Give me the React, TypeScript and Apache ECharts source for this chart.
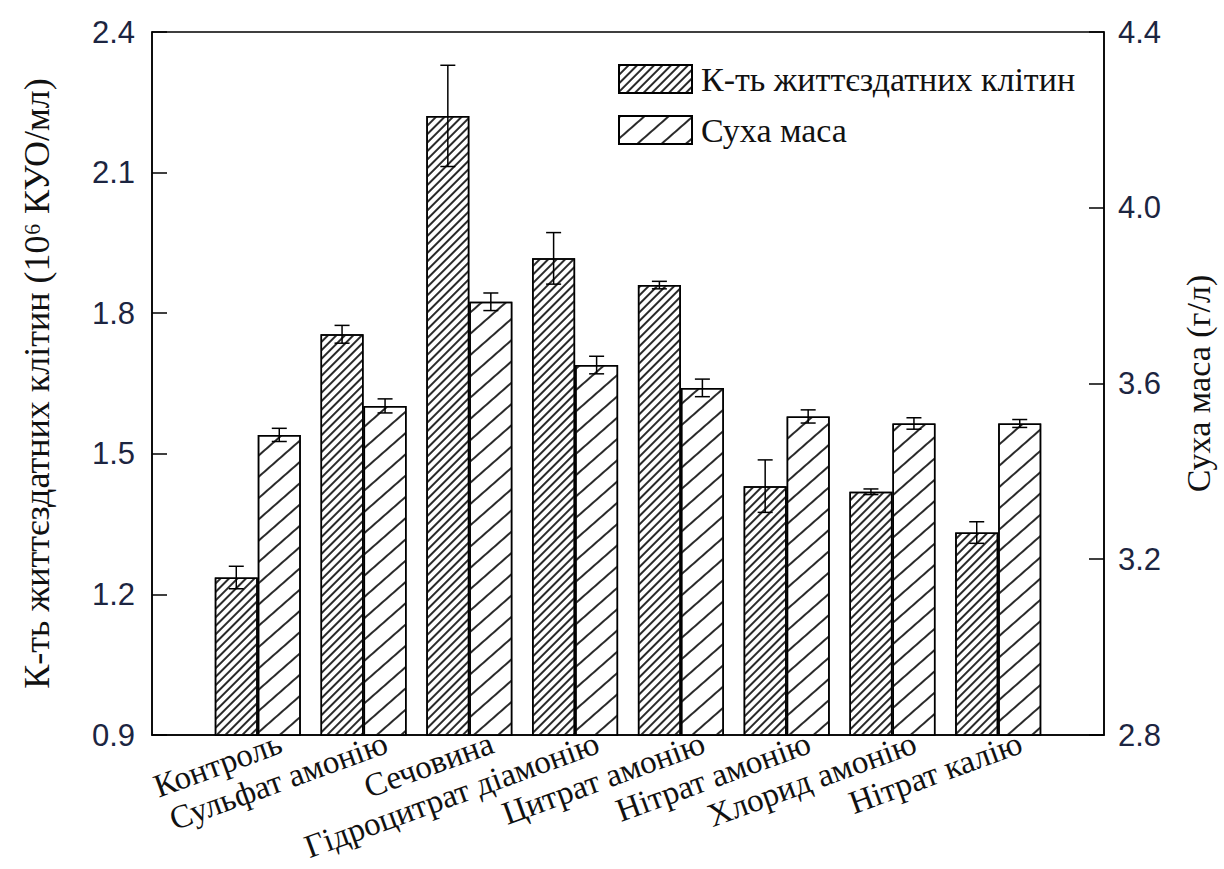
import React, { useEffect, useRef } from 'react';
import * as echarts from 'echarts';

// ---- data ----
const categories = [
  'Контроль',
  'Сульфат амонію',
  'Сечовина',
  'Гідроцитрат діамонію',
  'Цитрат амонію',
  'Нітрат амонію',
  'Хлорид амонію',
  'Нітрат калію',
];
const viableCells = [1.236, 1.755, 2.221, 1.917, 1.86, 1.431, 1.419, 1.332];
const viableCellsErr = [0.024, 0.019, 0.108, 0.055, 0.008, 0.056, 0.006, 0.023];
const dryMass = [3.483, 3.549, 3.786, 3.642, 3.59, 3.525, 3.509, 3.509];
const dryMassErr = [0.015, 0.016, 0.02, 0.02, 0.02, 0.015, 0.013, 0.009];

const seriesNames = ['К-ть життєздатних клітин', 'Суха маса'];
const leftAxisName = 'К-ть життєздатних клітин (10⁶ КУО/мл)';
const rightAxisName = 'Суха маса (г/л)';
const leftRange = { min: 0.9, max: 2.4, interval: 0.3 };
const rightRange = { min: 2.8, max: 4.4, interval: 0.4 };

// ---- style ----
const SERIF = 'Liberation Serif, Times New Roman, serif';
const SANS = 'Liberation Sans, Arial, sans-serif';
const TICK_COLOR = '#1c2541';
const BAR_W = 43;
const CAP_HALF = 7.5;

const denseDecal = {
  symbol: 'rect',
  symbolSize: 1,
  dashArrayX: [1, 0],
  dashArrayY: [1.1, 3.4],
  rotation: -Math.PI / 4,
  color: '#2a2a2a',
};
const sparseDecal = {
  symbol: 'rect',
  symbolSize: 1,
  dashArrayX: [1, 0],
  dashArrayY: [1.3, 13.3],
  rotation: -0.72,
  color: '#2a2a2a',
};

function errorSeries(values: number[], errs: number[], yAxisIndex: number, offset: number) {
  return {
    type: 'custom',
    yAxisIndex,
    z: 5,
    clip: false,
    silent: true,
    encode: { x: 0, y: 1 },
    data: values.map((v, i) => [i + 1, v, errs[i]]),
    renderItem: (params: any, api: any) => {
      const x = api.value(0);
      const v = api.value(1);
      const e = api.value(2);
      const top = api.coord([x, v + e]);
      const bot = api.coord([x, v - e]);
      const cx = top[0] + offset;
      const st = { stroke: '#000', lineWidth: 1.5 };
      return {
        type: 'group',
        children: [
          { type: 'line', shape: { x1: cx, y1: top[1], x2: cx, y2: bot[1] }, style: st },
          { type: 'line', shape: { x1: cx - CAP_HALF, y1: top[1], x2: cx + CAP_HALF, y2: top[1] }, style: st },
          { type: 'line', shape: { x1: cx - CAP_HALF, y1: bot[1], x2: cx + CAP_HALF, y2: bot[1] }, style: st },
        ],
      };
    },
  };
}

export default function App() {
  const ref = useRef<HTMLDivElement>(null);
  useEffect(() => {
    document.body.style.margin = '0';
    const chart = echarts.init(ref.current!, null, { renderer: 'svg' });
    const xData = ['', ...categories, ''];
    const yAxisCommon = {
      type: 'value',
      splitLine: { show: false },
      axisLine: { show: true, lineStyle: { color: '#000', width: 1.5 } },
      axisTick: { show: true, inside: true, length: 15, lineStyle: { color: '#000', width: 1.5 } },
      nameLocation: 'middle',
      nameRotate: 90,
    };
    chart.setOption({
      animation: false,
      backgroundColor: '#fff',
      textStyle: { fontFamily: SERIF },
      grid: {
        left: 152,
        right: 120,
        top: 32,
        bottom: 134,
        show: true,
        borderColor: '#000',
        borderWidth: 1.5,
        containLabel: false,
        outerBoundsMode: 'none',
      },
      legend: {
        data: seriesNames,
        orient: 'vertical',
        left: 613,
        top: 57,
        icon: 'rect',
        itemWidth: 73,
        itemHeight: 28,
        itemGap: 17,
        textStyle: { fontFamily: SERIF, fontSize: 34, color: '#111', padding: [0, 0, 0, 4] },
      },
      xAxis: {
        type: 'category',
        data: xData,
        boundaryGap: false,
        axisLine: { show: true, lineStyle: { color: '#000', width: 1.5 } },
        axisTick: { show: false },
        axisLabel: {
          interval: 0,
          rotate: 20,
          margin: 15,
          padding: [0, -24, 0, 0],
          fontFamily: SERIF,
          fontSize: 33,
          color: '#111',
        },
      },
      yAxis: [
        {
          ...yAxisCommon,
          ...leftRange,
          position: 'left',
          name: leftAxisName,
          nameGap: 97,
          nameTextStyle: { fontFamily: SERIF, fontSize: 36, color: '#111' },
          axisLabel: {
            margin: 17,
            fontFamily: SANS,
            fontSize: 31,
            color: TICK_COLOR,
            formatter: (v: number) => v.toFixed(1),
          },
        },
        {
          ...yAxisCommon,
          ...rightRange,
          position: 'right',
          name: rightAxisName,
          nameGap: 77,
          nameTextStyle: { fontFamily: SERIF, fontSize: 34, color: '#111' },
          axisLabel: {
            margin: 14,
            fontFamily: SANS,
            fontSize: 31,
            color: TICK_COLOR,
            formatter: (v: number) => v.toFixed(1),
          },
        },
      ],
      series: [
        {
          name: seriesNames[0],
          type: 'bar',
          yAxisIndex: 0,
          barWidth: BAR_W,
          barGap: '0%',
          data: ['-', ...viableCells, '-'],
          itemStyle: { color: '#fff', borderColor: '#000', borderWidth: 1.5, decal: denseDecal },
        },
        {
          name: seriesNames[1],
          type: 'bar',
          yAxisIndex: 1,
          barWidth: BAR_W,
          barGap: '0%',
          data: ['-', ...dryMass, '-'],
          itemStyle: { color: '#fff', borderColor: '#000', borderWidth: 1.5, decal: sparseDecal },
        },
        errorSeries(viableCells, viableCellsErr, 0, -BAR_W / 2),
        errorSeries(dryMass, dryMassErr, 1, BAR_W / 2),
      ],
    });
    return () => chart.dispose();
  }, []);
  return <div ref={ref} style={{ width: 1224, height: 869 }} />;
}
